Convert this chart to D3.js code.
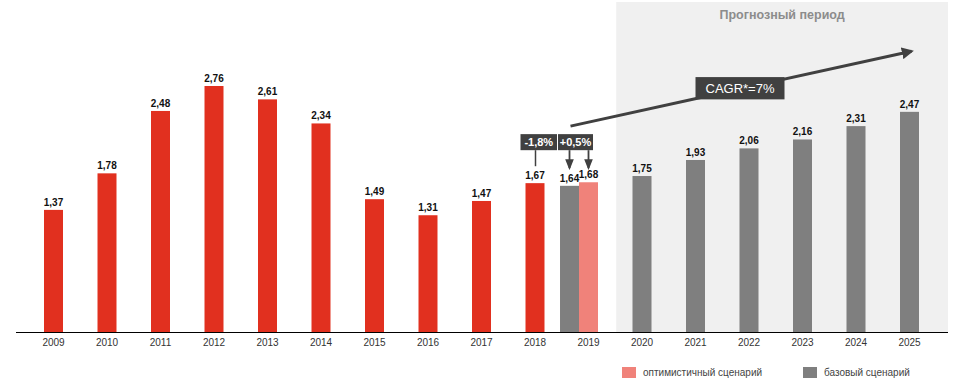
<!DOCTYPE html>
<html><head><meta charset="utf-8">
<script src="https://cdn.jsdelivr.net/npm/d3@7"></script>
<style>
html,body{margin:0;padding:0;background:#fff;}
svg{display:block;font-family:"Liberation Sans",Arial,sans-serif;}
</style></head>
<body><svg id="chart" width="959" height="389"></svg>
<script>
const years = ["2009","2010","2011","2012","2013","2014","2015","2016","2017","2018","2019","2020","2021","2022","2023","2024","2025"];
const actualYears = ["2009","2010","2011","2012","2013","2014","2015","2016","2017","2018"];
const actualValues = [1.37,1.78,2.48,2.76,2.61,2.34,1.49,1.31,1.47,1.67];
const baseYears = ["2019","2020","2021","2022","2023","2024","2025"];
const baseValues = [1.64,1.75,1.93,2.06,2.16,2.31,2.47];
const optimisticYears = ["2019"];
const optimisticValues = [1.68];
const forecastYears = ["2020","2025"];
const changeLabels = ["-1,8%","+0,5%"];
const cagrLabel = "CAGR*=7%";
const forecastTitle = "Прогнозный период";
const legendLabels = ["оптимистичный сценарий","базовый сценарий"];

const RED="#E1301F", GRAY="#7F7F7F", PINK="#F0827A", DARK="#404040", BG="#F0F0F0";
const svg = d3.select("#chart");
const x = d3.scaleBand().domain(years).range([26.75, 936.25]).paddingInner(0.645).paddingOuter(0.3225);
const y = d3.scaleLinear().domain([0,3]).range([332, 332-3*89.13]);
const bw = x.bandwidth();
const fmt = v => d3.format(".2f")(v).replace(".", ",");

// forecast background
const bgX0 = x(forecastYears[0]) - (x.step()-bw)/2 + 1;
const bgX1 = x(forecastYears[1]) + bw + 29;
svg.append("rect").attr("x", bgX0).attr("y", 2).attr("width", bgX1-bgX0).attr("height", 330).attr("fill", BG);
svg.append("text").attr("x", (bgX0+bgX1)/2).attr("y", 19).attr("text-anchor","middle")
  .attr("font-size", 12.5).attr("font-weight","bold").attr("fill","#8c8c8c").text(forecastTitle);

// bars
function bars(ys, vs, color, dx, cls){
  const d = ys.map((k,i)=>({k, v: vs[i], dx: dx(k)}));
  svg.selectAll("rect."+cls).data(d).enter().append("rect").attr("class", cls)
    .attr("x", e=>x(e.k)+e.dx).attr("y", e=>y(e.v)).attr("width", bw).attr("height", e=>y(0)-y(e.v)).attr("fill", color);
  svg.selectAll("text."+cls).data(d).enter().append("text").attr("class", cls)
    .attr("x", e=>x(e.k)+e.dx+bw/2).attr("y", e=>y(e.v)-4).attr("text-anchor","middle")
    .attr("font-size", 10).attr("font-weight","bold").attr("fill","#111").text(e=>fmt(e.v));
}
bars(actualYears, actualValues, RED, ()=>0, "act");
bars(baseYears, baseValues, GRAY, k=> k==="2019" ? -bw : 0, "base");
bars(optimisticYears, optimisticValues, PINK, ()=>0, "opt");

// axis
const axis = d3.axisBottom(x).tickSize(0).tickPadding(7);
const ag = svg.append("g").attr("transform","translate(0,332)").call(axis);
ag.select(".domain").remove();
ag.selectAll("text").attr("font-size", 10).attr("fill","#333").attr("font-family","Liberation Sans, Arial, sans-serif");
svg.append("line").attr("x1",16).attr("x2",948).attr("y1",332.5).attr("y2",332.5).attr("stroke","#000").attr("stroke-width",1.2);

// defs arrow
const defs = svg.append("defs");
defs.append("marker").attr("id","ah").attr("viewBox","0 0 10 10").attr("refX",8).attr("refY",5)
  .attr("markerWidth",4).attr("markerHeight",4).attr("orient","auto")
  .append("path").attr("d","M0,0L10,5L0,10Z").attr("fill",DARK);
defs.append("marker").attr("id","ah2").attr("viewBox","0 0 10 10").attr("refX",8).attr("refY",5)
  .attr("markerWidth",6).attr("markerHeight",6).attr("orient","auto")
  .append("path").attr("d","M0,1L10,5L0,9Z").attr("fill",DARK);

// change boxes
const yr19 = x("2019");
const boxY0 = y(2.22), boxY1 = y(2.04);
const boxes = [
  {x0: x("2018")-5, x1: yr19-22, t: changeLabels[0]},
  {x0: yr19-21, x1: yr19+14, t: changeLabels[1]}
];
boxes.forEach(b=>{
  svg.append("rect").attr("x",b.x0).attr("y",boxY0).attr("width",b.x1-b.x0).attr("height",boxY1-boxY0).attr("fill",DARK);
  svg.append("text").attr("x",(b.x0+b.x1)/2).attr("y",(boxY0+boxY1)/2+4).attr("text-anchor","middle")
    .attr("font-size",11).attr("font-weight","bold").attr("fill","#fff").text(b.t);
});
// connector from -1,8% to 2018
svg.append("line").attr("x1",x("2018")+bw/2+0.5).attr("x2",x("2018")+bw/2+0.5).attr("y1",boxY1).attr("y2",y(1.86))
  .attr("stroke",DARK).attr("stroke-width",1.5);
[yr19-bw+bw/2, yr19+bw/2].forEach(cx=>{
  svg.append("line").attr("x1",cx).attr("x2",cx).attr("y1",boxY1).attr("y2",y(1.84))
    .attr("stroke",DARK).attr("stroke-width",1.8).attr("marker-end","url(#ah2)");
});

// CAGR arrow
const ax0 = x("2019")-bw/2+1, ay0 = y(2.31);
const ax1 = x("2025")+bw/2+2, ay1 = y(3.15);
svg.append("line").attr("x1",ax0).attr("y1",ay0).attr("x2",ax1).attr("y2",ay1)
  .attr("stroke",DARK).attr("stroke-width",3).attr("marker-end","url(#ah)");
const cx0 = x("2022")-44, cx1 = x("2022")+45;
svg.append("rect").attr("x",cx0).attr("y",y(2.86)).attr("width",cx1-cx0).attr("height",y(2.61)-y(2.86)).attr("fill",DARK);
svg.append("text").attr("x",(cx0+cx1)/2).attr("y",(y(2.86)+y(2.61))/2+5).attr("text-anchor","middle")
  .attr("font-size",13).attr("fill","#fff").text(cagrLabel);

// legend
const leg = [{c: PINK, t: legendLabels[0], x: 622},{c: GRAY, t: legendLabels[1], x: 803}];
leg.forEach(l=>{
  svg.append("rect").attr("x",l.x).attr("y",367).attr("width",14).attr("height",11).attr("fill",l.c);
  svg.append("text").attr("x",l.x+21).attr("y",376).attr("font-size",10).attr("fill","#444").text(l.t);
});
</script></body></html>
